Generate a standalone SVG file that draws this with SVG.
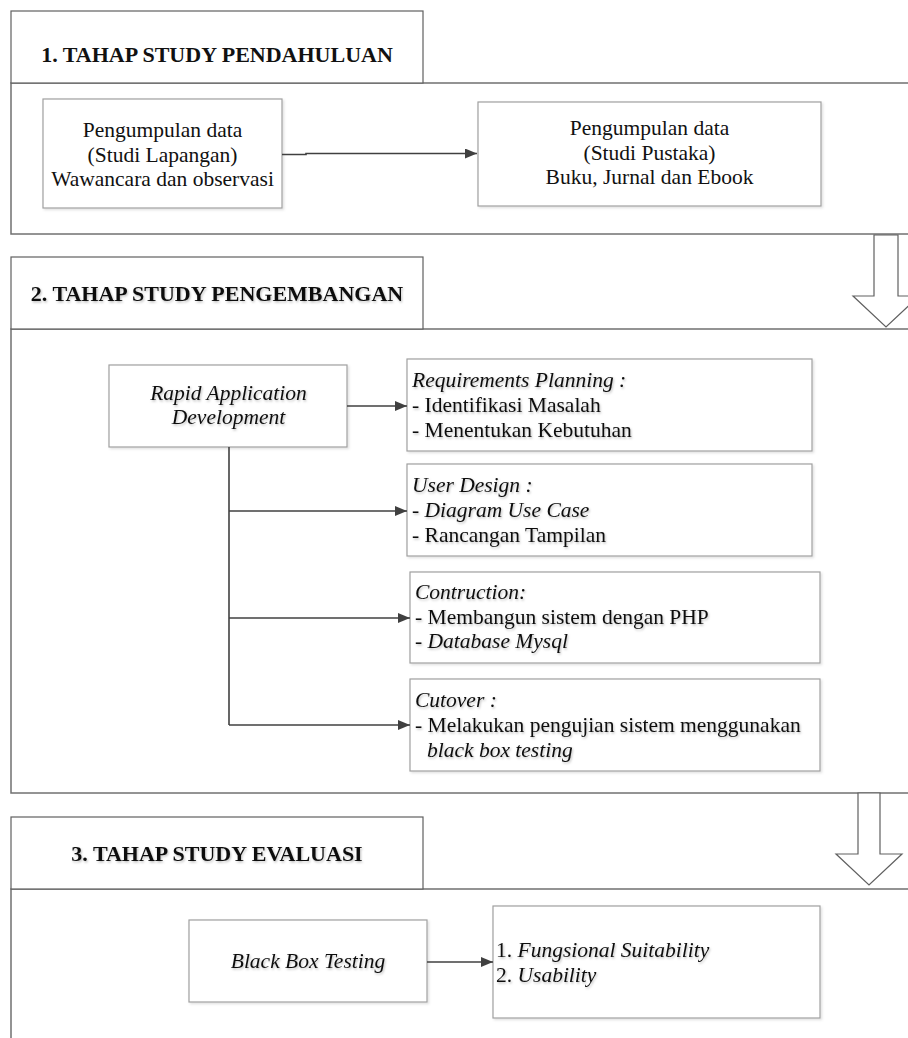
<svg xmlns="http://www.w3.org/2000/svg" width="908" height="1038" viewBox="0 0 908 1038">
<defs>
<filter id="sh" x="-5%" y="-5%" width="110%" height="115%">
<feDropShadow dx="1.5" dy="1.5" stdDeviation="1" flood-color="#000" flood-opacity="0.12"/>
</filter>
<filter id="tsh" x="-5%" y="-20%" width="110%" height="150%">
<feDropShadow dx="1" dy="1.5" stdDeviation="1" flood-color="#000" flood-opacity="0.25"/>
</filter>
<marker id="ah" markerWidth="12" markerHeight="10" refX="12" refY="5" orient="auto" markerUnits="userSpaceOnUse">
<path d="M0,0 L12,5 L0,10 Z" fill="#404040"/>
</marker>
</defs>
<style>
.frame{fill:#fff;stroke:#707070;stroke-width:1.5}
.head{fill:#fff;stroke:#606060;stroke-width:1.2}
.box{fill:#fff;stroke:#a0a0a0;stroke-width:1.2;filter:url(#sh)}
.t{font-family:"Liberation Serif","Times New Roman",serif;font-size:21.5px;fill:#111}
.ht{font-family:"Liberation Serif","Times New Roman",serif;font-size:22px;font-weight:bold;fill:#111;text-anchor:middle}
.c{text-anchor:middle}
.i{font-style:italic}
.con{fill:none;stroke:#404040;stroke-width:1.6}
.blk{fill:#fff;stroke:#606060;stroke-width:1.2}
</style>
<rect width="908" height="1038" fill="#fff"/>

<g id="stage1">
<rect class="frame" x="11" y="83" width="910" height="151"/>
<rect class="head" x="11" y="11" width="412" height="72"/>
<text class="ht" x="217" y="62">1. TAHAP STUDY PENDAHULUAN</text>
</g>
<g id="stage2">
<rect class="frame" x="11" y="329" width="910" height="464"/>
<rect class="head" x="11" y="257" width="412" height="72"/>
<text class="ht" x="217" y="301" filter="url(#tsh)">2. TAHAP STUDY PENGEMBANGAN</text>
</g>
<g id="stage3">
<rect class="frame" x="11" y="889" width="910" height="160"/>
<rect class="head" x="11" y="817" width="412" height="72"/>
<text class="ht" x="217" y="861" filter="url(#tsh)">3. TAHAP STUDY EVALUASI</text>
</g>

<g id="studi-lapangan">
<rect class="box" x="43" y="99" width="239" height="109"/>
<text class="t c" x="162.5" y="137">Pengumpulan data</text>
<text class="t c" x="162.5" y="162">(Studi Lapangan)</text>
<text class="t c" x="162.5" y="186">Wawancara dan observasi</text>
</g>
<g id="studi-pustaka">
<rect class="box" x="478" y="102" width="343" height="104"/>
<text class="t c" x="649.5" y="135">Pengumpulan data</text>
<text class="t c" x="649.5" y="160">(Studi Pustaka)</text>
<text class="t c" x="649.5" y="184">Buku, Jurnal dan Ebook</text>
</g>

<g id="rad">
<rect class="box" x="109" y="365" width="238" height="82"/>
<text class="t c i" x="228.5" y="400" filter="url(#tsh)">Rapid Application</text>
<text class="t c i" x="228.5" y="424" filter="url(#tsh)">Development</text>
</g>
<g id="requirements">
<rect class="box" x="407" y="359" width="405" height="92"/>
<text class="t" x="412" y="387" filter="url(#tsh)"><tspan class="i">Requirements Planning :</tspan><tspan x="412" dy="25">- Identifikasi Masalah</tspan><tspan x="412" dy="25">- Menentukan Kebutuhan</tspan></text>
</g>
<g id="user-design">
<rect class="box" x="407" y="464" width="405" height="92"/>
<text class="t" x="412" y="492" filter="url(#tsh)"><tspan class="i">User Design :</tspan><tspan x="412" dy="25">- </tspan><tspan class="i">Diagram Use Case</tspan><tspan x="412" dy="25">- Rancangan Tampilan</tspan></text>
</g>
<g id="contruction">
<rect class="box" x="410" y="572" width="410" height="91"/>
<text class="t" x="415" y="599" filter="url(#tsh)"><tspan class="i">Contruction:</tspan><tspan x="415" dy="24.5">- Membangun sistem dengan PHP</tspan><tspan x="415" dy="24.5">- </tspan><tspan class="i">Database Mysql</tspan></text>
</g>
<g id="cutover">
<rect class="box" x="410" y="679" width="410" height="92"/>
<text class="t" x="415" y="707" filter="url(#tsh)"><tspan class="i">Cutover :</tspan><tspan x="415" dy="25">- Melakukan pengujian sistem menggunakan</tspan><tspan class="i" x="427" dy="25">black box testing</tspan></text>
</g>

<g id="black-box">
<rect class="box" x="189" y="920" width="238" height="82"/>
<text class="t c i" x="308" y="968" filter="url(#tsh)">Black Box Testing</text>
</g>
<g id="hasil">
<rect class="box" x="493" y="906" width="327" height="112"/>
<text class="t" x="496" y="957" filter="url(#tsh)">1. <tspan class="i">Fungsional Suitability</tspan><tspan x="496" dy="25">2. </tspan><tspan class="i">Usability</tspan></text>
</g>

<g id="connectors">
<path class="con" d="M282,154.5 H306 V153.5 H477" marker-end="url(#ah)"/>
<path class="con" d="M347,406 H407" marker-end="url(#ah)"/>
<path class="con" d="M229,447 V725"/>
<path class="con" d="M229,511 H407" marker-end="url(#ah)"/>
<path class="con" d="M229,618 H410" marker-end="url(#ah)"/>
<path class="con" d="M229,725 H410" marker-end="url(#ah)"/>
<path class="con" d="M427,962 H493" marker-end="url(#ah)"/>
<polygon class="blk" points="874,235 898,235 898,296 919,296 886,327 853,296 874,296"/>
<polygon class="blk" points="858,793 880,793 880,854 902,854 869,885 836,854 858,854"/>
</g>
</svg>
